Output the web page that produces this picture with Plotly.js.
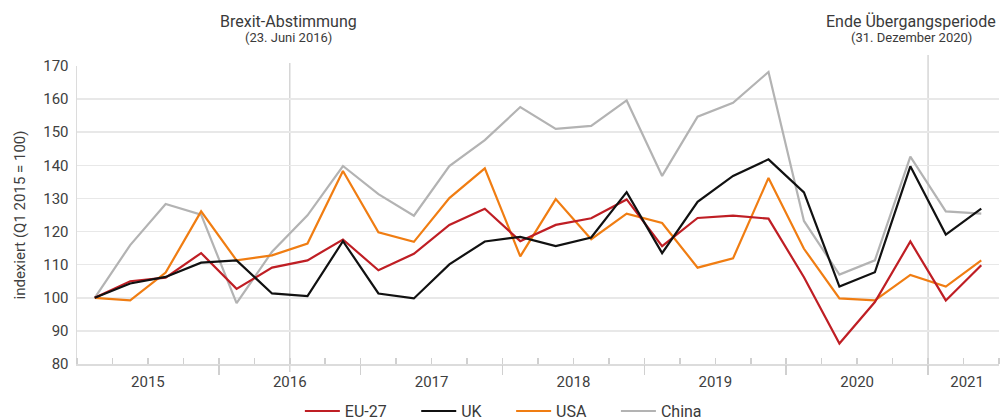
<!DOCTYPE html>
<html><head><meta charset="utf-8">
<script src="https://cdn.plot.ly/plotly-3.0.1.min.js"></script>
<style>html,body{margin:0;padding:0;background:#fff;}#chart{width:1003px;height:418px;}</style>
</head><body><div id="chart"></div>
<script>
// Quarterly index (Q1 2015 = 100), Q1 2015 .. Q2 2021
const quarters = ['Q1 2015','Q2 2015','Q3 2015','Q4 2015','Q1 2016','Q2 2016','Q3 2016','Q4 2016',
  'Q1 2017','Q2 2017','Q3 2017','Q4 2017','Q1 2018','Q2 2018','Q3 2018','Q4 2018',
  'Q1 2019','Q2 2019','Q3 2019','Q4 2019','Q1 2020','Q2 2020','Q3 2020','Q4 2020','Q1 2021','Q2 2021'];
const seriesNames = ['EU-27','UK','USA','China'];
const eu27  = [100,105.0,106.1,113.5,102.7,109.1,111.3,117.6,108.3,113.3,122.0,126.9,117.1,122.0,124.0,129.7,115.6,124.1,124.8,123.9,106.2,86.2,98.7,117.0,99.2,109.8];
const uk    = [100,104.3,106.3,110.6,111.3,101.3,100.5,117.1,101.3,99.8,110.1,117.0,118.4,115.6,118.2,131.9,113.5,129.0,136.8,141.8,131.8,103.4,107.7,139.7,119.1,126.9];
const usa   = [100,99.2,107.6,126.1,111.3,112.8,116.4,138.3,119.8,116.9,130.1,139.1,112.5,129.8,117.7,125.4,122.6,109.1,111.9,136.2,114.8,99.8,99.2,106.9,103.4,111.3];
const china = [100,115.9,128.3,125.1,98.4,113.9,124.9,139.8,131.3,124.8,139.8,147.6,157.6,151.0,151.9,159.6,136.8,154.7,158.9,168.2,123.2,107.0,111.3,142.6,126.1,125.4];
const years = ['2015','2016','2017','2018','2019','2020','2021'];
const yTitle = 'indexiert (Q1 2015 = 100)';
const events = [
  {title:'Brexit-Abstimmung', sub:'(23. Juni 2016)', after:'Q2 2016'},
  {title:'Ende Übergangsperiode', sub:'(31. Dezember 2020)', after:'Q4 2020'}
];
const colors = {'EU-27':'#bf1e24','UK':'#111111','USA':'#f07d12','China':'#b3b3b3'};

const xIdx = quarters.map((q,i)=>i);
const xMin = -0.5, xMax = quarters.length - 0.5;
const quarterBounds = quarters.map((q,i)=>i-0.5).concat([xMax]);
const yearBounds = years.slice(1).map((y,k)=>4*(k+1)-0.5).filter(v=>v<xMax);
const yearLabelPos = years.map((y,k)=>Math.min(4*k+1.5, xMax-0.9));

const dataMap = {'EU-27':eu27,'UK':uk,'USA':usa,'China':china};
const drawOrder = ['China','USA','EU-27','UK'];
const traces = drawOrder.map(n=>({
  type:'scatter', mode:'lines', name:n + '\u2003\u2002', x:xIdx, y:dataMap[n],
  xaxis: n==='UK' ? 'x2' : 'x',
  text:quarters, hoverinfo:'text+y',
  line:{color:colors[n], width:2.2},
  legendrank: seriesNames.indexOf(n)+1
}));

const shapes = events.map((e,k)=>({
  type:'line', xref:'x', yref:'paper',
  x0:quarters.indexOf(e.after)+0.5, x1:quarters.indexOf(e.after)+0.5,
  y0:-0.027, y1:k===0?1.01:1.037,
  line:{color:'#d6d6d6', width:1.5}, layer:'below'
}));
const annotations = [];
events.forEach((e,k)=>{
  const xv = quarters.indexOf(e.after)+0.5;
  const sh = k===0 ? -1 : -17;
  annotations.push({text:e.title, x:xv, xref:'x', y:1.148, yref:'paper', showarrow:false, xshift:sh,
    xanchor:'center', yanchor:'middle', font:{size:16, color:'#3a3a3a'}});
  annotations.push({text:e.sub, x:xv, xref:'x', y:1.094, yref:'paper', showarrow:false, xshift:sh,
    xanchor:'center', yanchor:'middle', font:{size:13, color:'#3a3a3a'}});
});

const layout = {
  width:1003, height:418,
  margin:{l:77, r:4, t:66, b:54, autoexpand:false},
  paper_bgcolor:'#ffffff', plot_bgcolor:'#ffffff',
  font:{family:'Roboto, "DejaVu Sans", sans-serif', size:15, color:'#404040'},
  showlegend:true,
  legend:{orientation:'h', x:0.476, xanchor:'center', y:-0.158, yanchor:'middle', itemwidth:35,
    font:{size:16, color:'#3a3a3a'}, traceorder:'normal'},
  xaxis:{range:[xMin,xMax], showgrid:false, zeroline:false, showline:true, linecolor:'#dcdcdc', linewidth:2,
    ticks:'', tickmode:'array', tickvals:yearLabelPos, ticktext:years, ticklabelstandoff:3,
    tickfont:{size:15, color:'#404040'},
    minor:{tickmode:'array', tickvals:quarterBounds, ticks:'inside', ticklen:6, tickcolor:'#d0d0d0', tickwidth:1.5, showgrid:false},
    fixedrange:true},
  xaxis2:{overlaying:'x', anchor:'y', side:'bottom', range:[xMin,xMax], showgrid:false, zeroline:false, showline:false,
    ticks:'outside', ticklen:10, tickcolor:'#d0d0d0', tickwidth:1.5, tickmode:'array', tickvals:yearBounds,
    showticklabels:false},
  yaxis:{range:[80,170], tick0:80, dtick:10, gridcolor:'#e8e8e8', gridwidth:1.5, showline:true, linecolor:'#dcdcdc', linewidth:1.5,
    zeroline:false, ticks:'', ticklabelstandoff:4, tickfont:{size:15, color:'#404040'},
    title:{text:yTitle, font:{size:15, color:'#404040'}, standoff:14}},
  shapes:shapes,
  annotations:annotations
};
Plotly.newPlot('chart', traces, layout, {displayModeBar:false, staticPlot:true});
</script>
</body></html>
